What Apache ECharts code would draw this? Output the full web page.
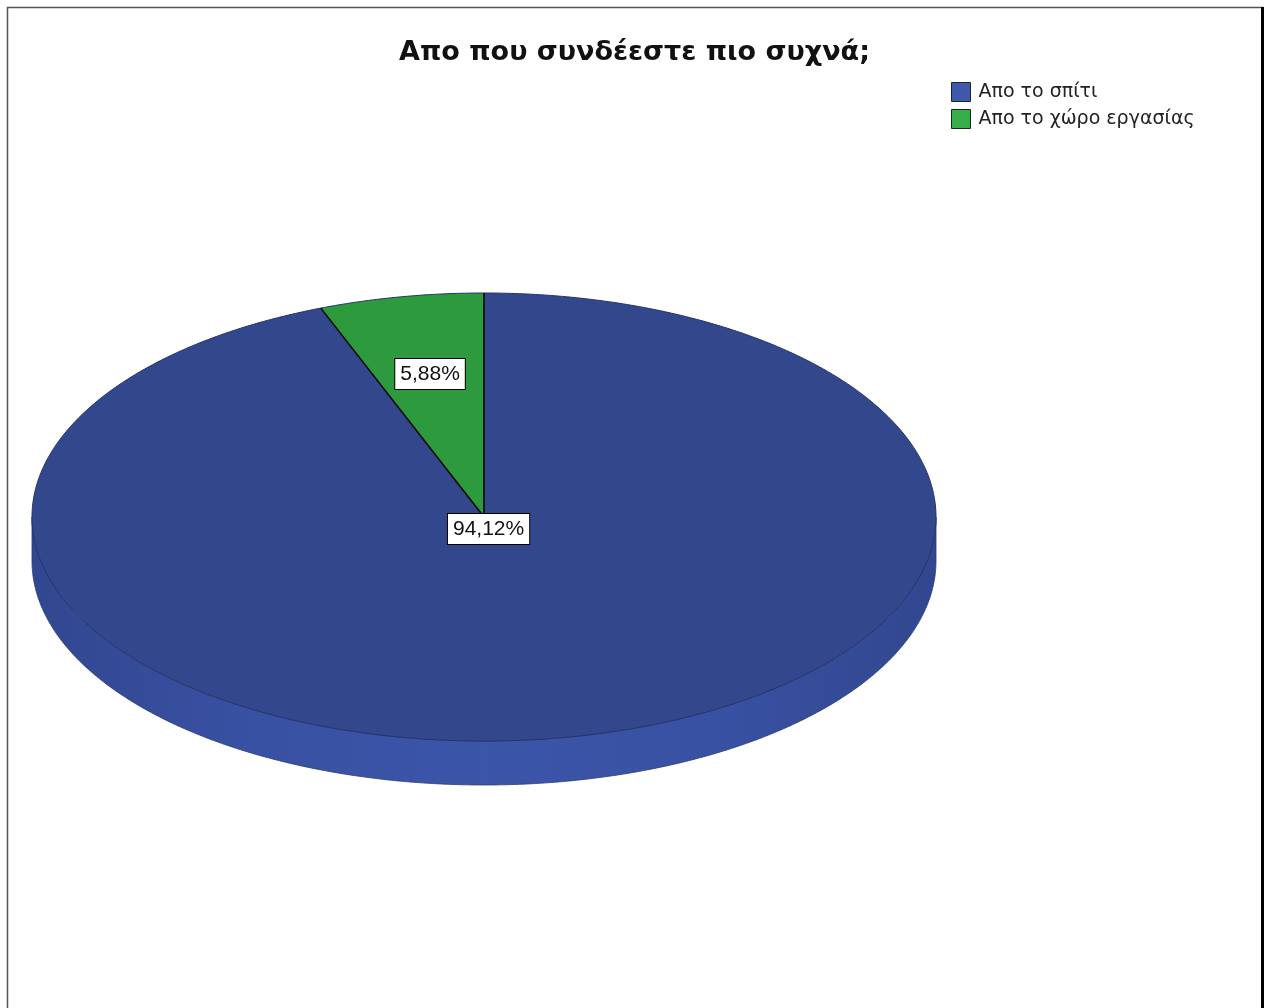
<!DOCTYPE html>
<html>
<head>
<meta charset="utf-8">
<script src="https://cdn.jsdelivr.net/npm/echarts@6/dist/echarts.min.js"></script>
<style>
html, body { margin: 0; padding: 0; background: #ffffff; }
#chart { width: 1269px; height: 1008px; }
</style>
</head>
<body>
<div id="chart"></div>
<script>
// Survey answer shares, in percent
const titleText = 'Απο που συνδέεστε πιο συχνά;';
const categories = ['Απο το σπίτι', 'Απο το χώρο εργασίας'];
const percentValues = [94.12, 5.88];

// Colours: legend swatches, shaded top faces, and the rim
const legendColors = ['#3E58AC', '#37AE4A'];
const topColors = ['#33488C', '#2E9A3E'];
const rimStops = ['#31478F', '#3951A3', '#3B55A8', '#3951A3', '#31478F'];

// Geometry of the tilted pie (ellipse centre, radii, rim depth)
const PIE = { cx: 484, cy: 517, rx: 452, ry: 224, depth: 44, startDeg: 90 };
// Where each percentage box sits along its slice's middle direction
const LABEL_RADIUS = [0.055, 0.65];

const total = percentValues.reduce((a, b) => a + b, 0);

function pt(deg, dy) {
  const r = deg * Math.PI / 180;
  return [PIE.cx + PIE.rx * Math.cos(r), PIE.cy - PIE.ry * Math.sin(r) + (dy || 0)];
}

function arcPoints(fromDeg, toDeg, dy) {
  const n = Math.max(2, Math.ceil(Math.abs(toDeg - fromDeg) / 0.5));
  const out = [];
  for (let i = 0; i <= n; i++) out.push(pt(fromDeg + (toDeg - fromDeg) * i / n, dy));
  return out;
}

function formatPct(v) {
  return (v / total * 100).toFixed(2).replace('.', ',') + '%';
}

// Slices run clockwise from the top
function makeRenderer(idx) {
  return function (params, api) {
    const value = api.value(0);
    let before = 0;
    for (let i = 0; i < idx; i++) before += percentValues[i];
    const a0 = PIE.startDeg - before / total * 360;
    const a1 = a0 - value / total * 360;

    const children = [];

    // Rim: the part of this slice's arc that faces the viewer (lower half)
    for (let k = -2; k <= 1; k++) {
      const lo = Math.max(a1, -180 + 360 * k);
      const hi = Math.min(a0, 360 * k);
      if (hi - lo > 0.01) {
        const upper = arcPoints(hi, lo, 0);
        const lower = arcPoints(hi, lo, PIE.depth).reverse();
        children.push({
          type: 'polygon',
          z2: 1,
          shape: { points: upper.concat(lower) },
          style: {
            fill: new echarts.graphic.LinearGradient(PIE.cx - PIE.rx, 0, PIE.cx + PIE.rx, 0,
              rimStops.map((c, i) => ({ offset: i / (rimStops.length - 1), color: c })), true),
            stroke: '#2a3a78',
            lineWidth: 0.8
          }
        });
      }
    }

    // Top face of the slice
    const arc = arcPoints(a0, a1, 0);
    const pts = [[PIE.cx, PIE.cy]].concat(arc);
    children.push({
      type: 'polygon',
      z2: 5,
      shape: { points: pts },
      style: { fill: topColors[idx], stroke: '#26336a', lineWidth: 1 }
    });

    // Dark radial edges of the slice
    children.push({
      type: 'polyline',
      z2: 6,
      shape: { points: [arc[0], [PIE.cx, PIE.cy], arc[arc.length - 1]] },
      style: { fill: null, stroke: '#111111', lineWidth: 1.3 }
    });

    // Percentage box
    const mid = (a0 + a1) / 2 * Math.PI / 180;
    const lr = LABEL_RADIUS[idx];
    children.push({
      type: 'text',
      z2: 100,
      x: PIE.cx + lr * PIE.rx * Math.cos(mid),
      y: PIE.cy - lr * PIE.ry * Math.sin(mid),
      style: {
        text: formatPct(value),
        fill: '#111111',
        font: '21px "Liberation Sans", Arial, sans-serif',
        align: 'center',
        verticalAlign: 'middle',
        backgroundColor: '#ffffff',
        borderColor: '#000000',
        borderWidth: 1,
        padding: [5, 5, 4, 5]
      }
    });

    return { type: 'group', children: children };
  };
}

const chart = echarts.init(document.getElementById('chart'), null, { renderer: 'canvas' });

chart.setOption({
  animation: false,
  backgroundColor: '#ffffff',
  title: {
    text: titleText,
    left: 'center',
    top: 34,
    textStyle: {
      fontFamily: '"DejaVu Sans", sans-serif',
      fontWeight: 'bold',
      fontSize: 27,
      color: '#111111'
    }
  },
  legend: {
    orient: 'vertical',
    left: 946,
    top: 77,
    itemWidth: 19,
    itemHeight: 19,
    itemGap: 7,
    icon: 'rect',
    selectedMode: false,
    data: categories,
    itemStyle: { borderColor: '#222222', borderWidth: 1 },
    textStyle: {
      fontFamily: '"DejaVu Sans", sans-serif',
      fontSize: 19,
      color: '#222222',
      padding: [0, 0, 0, 3]
    }
  },
  graphic: [
    {
      type: 'rect',
      shape: { x: 7.5, y: 7.5, width: 1255, height: 1020 },
      style: { fill: 'none', stroke: '#555555', lineWidth: 1.5 },
      silent: true
    },
    {
      type: 'line',
      shape: { x1: 1262.5, y1: 7, x2: 1262.5, y2: 1008 },
      style: { stroke: '#000000', lineWidth: 3 },
      silent: true
    }
  ],
  series: categories.map((name, i) => ({
    type: 'custom',
    name: name,
    coordinateSystem: 'none',
    itemStyle: { color: legendColors[i] },
    renderItem: makeRenderer(i),
    data: [{ value: percentValues[i], name: name }]
  }))
});
</script>
</body>
</html>
